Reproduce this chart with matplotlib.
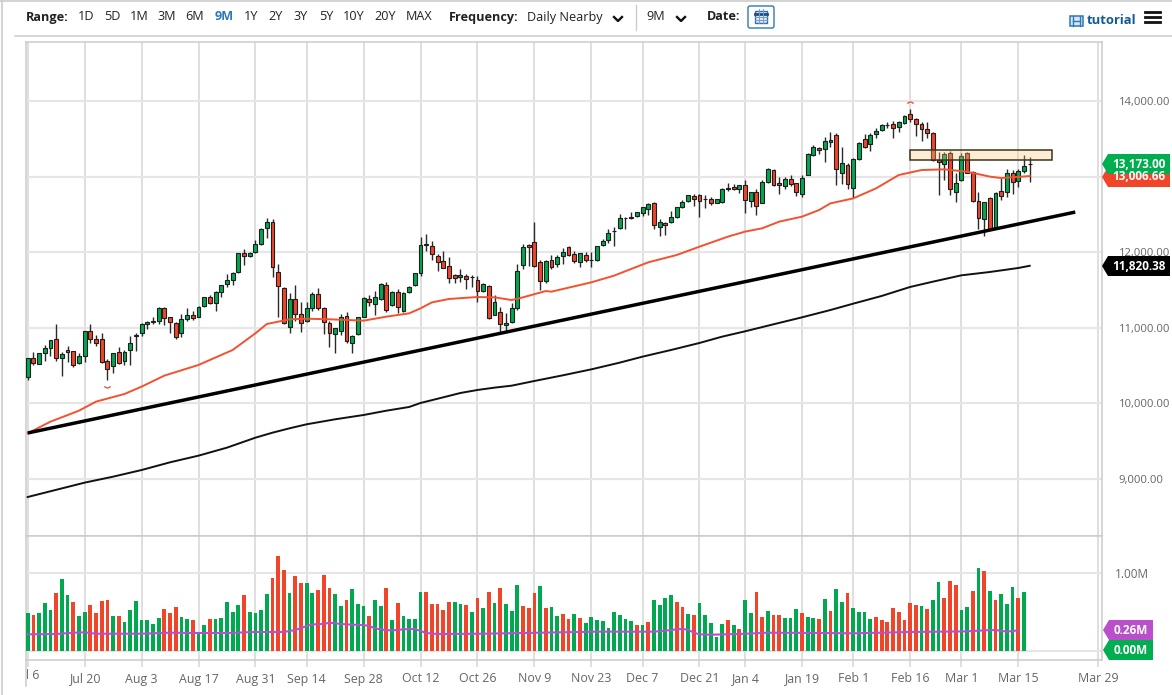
import matplotlib
matplotlib.use("Agg")
import matplotlib.pyplot as plt
from matplotlib.patches import Polygon, Rectangle, FancyBboxPatch
from matplotlib.path import Path
from matplotlib.transforms import Bbox

plt.rcParams['font.family'] = ['Open Sans', 'DejaVu Sans']

# daily candles
opens = [10344,10596,10521,10671,10728,10847,10600,10701,10688,10530,
    10622,10953,10847,10847,10565,10494,10679,10556,10701,10904,
    10931,11054,11076,11094,11257,11138,11067,10926,11112,11173,
    11142,11288,11411,11323,11477,11579,11636,11738,11985,11945,
    11998,12108,12320,12403,11742,11522,11006,11376,11187,11090,
    11261,11447,11257,11063,10918,10962,11156,10803,10913,11142,
    11385,11319,11376,11561,11306,11469,11217,11473,11561,11720,
    12104,12077,11945,11888,11813,11694,11676,11680,11676,11627,
    11491,11557,11173,11209,11032,11076,11257,11826,12090,12134,
    11866,11624,11897,11849,11950,12065,11972,11871,11959,11902,
    11902,12091,12162,12285,12325,12457,12466,12475,12523,12567,
    12656,12338,12387,12404,12470,12594,12678,12744,12757,12708,
    12704,12656,12669,12845,12858,12836,12885,12678,12797,12656,
    12924,13092,12911,12880,12973,12911,12770,13026,13286,13379,
    13365,13457,13545,13047,13153,12844,13228,13501,13426,13559,
    13616,13686,13691,13660,13704,13823,13757,13695,13634,13581,
    13219,13166,13307,12800,12955,13307,13056,12677,12434,12712,
    12337,12809,12791,13052,12946,13069,13162]
closes = [10596,10530,10662,10728,10834,10596,10649,10684,10512,10622,
    10953,10847,10803,10543,10459,10671,10538,10675,10794,10891,
    11045,11081,11094,11261,11125,11072,10874,11120,11173,11129,
    11279,11403,11332,11473,11561,11636,11724,11985,11949,11985,
    12108,12306,12403,11799,11552,11059,11385,11178,11059,11266,
    11447,11257,11072,10926,10992,11147,10829,10891,11138,11394,
    11341,11403,11575,11231,11469,11270,11464,11535,11720,12095,
    12090,11971,11874,11795,11654,11658,11694,11649,11667,11491,
    11583,11129,11336,11050,11059,11266,11755,12068,12073,11817,
    11615,11884,11809,11937,12003,11968,11888,11985,11902,11893,
    12078,12153,12259,12276,12448,12448,12457,12528,12594,12634,
    12365,12400,12365,12462,12594,12669,12753,12708,12682,12700,
    12647,12700,12832,12836,12841,12885,12686,12792,12611,12929,
    13096,12894,12885,12973,12898,12797,12982,13295,13392,13352,
    13470,13479,13100,13184,12906,13232,13444,13391,13550,13598,
    13678,13678,13638,13726,13805,13757,13695,13625,13572,13219,
    13188,13298,12831,12910,13276,13052,12677,12452,12659,12302,
    12787,12747,13043,12924,13074,13135,13173]
highs = [10596,10684,10662,10772,10838,11050,10684,10759,10697,10662,
    10953,11050,10904,10926,10591,10671,10750,10706,10891,10935,
    11059,11094,11138,11270,11279,11147,11081,11182,11257,11226,
    11288,11411,11433,11491,11566,11711,11742,11993,12037,12007,
    12161,12315,12448,12434,11839,11544,11464,11566,11345,11345,
    11477,11530,11279,11094,11001,11182,11213,10904,11147,11403,
    11433,11491,11588,11601,11491,11508,11469,11552,11729,12196,
    12245,12152,11976,12011,11940,11711,11773,11711,11694,11685,
    11597,11566,11433,11270,11200,11332,11843,12108,12108,12399,
    11897,11897,11963,11963,12052,12087,12016,11994,12007,12007,
    12087,12171,12303,12329,12506,12462,12528,12536,12603,12647,
    12664,12435,12400,12550,12603,12691,12761,12770,12770,12753,
    12726,12708,12845,12911,12902,12889,12955,12801,12832,12955,
    13110,13101,13000,12991,13021,12920,13021,13308,13414,13396,
    13528,13585,13581,13387,13184,13241,13453,13563,13572,13638,
    13691,13726,13739,13739,13814,13894,13770,13717,13717,13594,
    13329,13320,13343,13043,13307,13329,13074,12796,12668,12725,
    12800,12977,13096,13087,13104,13281,13259]
lows = [10309,10508,10521,10565,10627,10565,10366,10552,10477,10521,
    10552,10794,10759,10530,10309,10406,10521,10512,10508,10697,
    10891,10979,11050,11050,11037,10935,10847,10882,11094,11103,
    11138,11270,11314,11226,11411,11535,11566,11729,11835,11932,
    11993,12099,12183,11667,11147,11050,10935,11094,10944,11081,
    11226,11235,10913,10750,10662,10904,10794,10662,10904,11138,
    11288,11169,11367,11204,11288,11200,11209,11464,11552,11685,
    12020,11896,11746,11786,11597,11597,11610,11517,11535,11345,
    11477,11120,11164,10935,10962,11067,11235,11773,11821,11808,
    11500,11597,11774,11809,11844,11955,11862,11809,11875,11809,
    11888,12082,12126,12082,12312,12312,12444,12462,12479,12492,
    12312,12215,12232,12391,12453,12581,12669,12611,12462,12589,
    12629,12647,12656,12814,12823,12779,12523,12594,12492,12647,
    12911,12880,12766,12832,12876,12744,12726,13017,13273,13299,
    13193,13387,12884,12902,12831,12721,13219,13382,13343,13515,
    13607,13638,13515,13594,13695,13722,13541,13470,13506,13210,
    12761,12955,12756,12668,12946,13043,12668,12306,12214,12293,
    12329,12690,12725,12769,12866,13052,12932]

# volume in millions, and which colour each bar has
volume = [.485,.464,.481,.609,.528,.736,.915,.719,.626,.443,
    .498,.587,.485,.643,.651,.443,.443,.370,.523,.634,
    .391,.396,.349,.421,.532,.485,.562,.434,.413,.396,
    .247,.328,.413,.404,.417,.621,.498,.583,.711,.494,
    .485,.523,.728,.936,1.213,1.030,.740,.962,.872,.868,
    .740,.779,.970,.800,.728,.574,.655,.791,.600,.570,
    .447,.647,.579,.804,.400,.613,.443,.404,.409,.757,
    .753,.600,.600,.528,.626,.626,.600,.583,.502,.677,
    .549,.753,.609,.804,.604,.511,.843,.579,.553,.736,
    .834,.549,.557,.447,.472,.404,.477,.421,.357,.430,
    .400,.387,.298,.498,.464,.404,.379,.328,.332,.374,
    .651,.587,.677,.715,.626,.562,.472,.460,.609,.455,
    .357,.179,.345,.396,.332,.281,.651,.485,.753,.434,
    .511,.455,.460,.417,.417,.540,.485,.438,.421,.409,
    .664,.506,.787,.626,.740,.549,.494,.498,.409,.434,
    .396,.370,.553,.498,.396,.609,.583,.574,.536,.651,
    .877,.677,.894,.847,.519,.566,.762,1.055,1.026,.762,
    .655,.732,.604,.813,.681,.757]
volume_sides = ("GRGGGRGGRGGRRRRGRGGGGGGGRRRGGRGGRGGGGGRGGGGRRRGRRGGRRRGGRGGGRGGR"
    "GRGGGGRRRRRGGRGRGRGRGGGRRRGRGGRRGRGGGGGGGGGRGRGGGGRRGRGGGGGRGRGGRRGR"
    "RGGGRGGRGRGGRGGGGRRRRRRRRGRGGRRRGGRGRGRGG")

# moving averages and the hand drawn trend line, as (bar, value) readings
ma50_bars = [0,4,9,12,17,20,24,30,36,40,42,44,46,49,53,56,59,63,67,69,71,74,79,82,85,87,91,92,99,103,106,109,114,118,123,126,129,132,136,139,141,145,149,153,157,161,165,169,171,176]
ma50_vals = [9604,9758,9903,10023,10124,10221,10367,10508,10706,10927,11050,11081,11112,11120,11112,11103,11094,11147,11191,11257,11336,11381,11407,11403,11367,11403,11486,11478,11601,11690,11778,11866,11963,12073,12206,12272,12316,12404,12470,12558,12646,12712,12844,13021,13087,13096,13065,13000,12981,13007]
ma200_bars = [0,10,15,20,25,30,35,40,43,46,49,54,59,63,67,69,73,76,79,82,85,89,94,99,104,108,113,118,122,126,131,136,141,145,150,155,159,164,169,174,176]
ma200_vals = [8761,8951,9030,9118,9220,9308,9414,9546,9612,9670,9723,9789,9846,9903,9952,10005,10080,10137,10177,10208,10234,10296,10371,10450,10539,10618,10706,10799,10883,10953,11046,11138,11235,11319,11421,11540,11610,11694,11738,11791,11820]
vol_ma_bars = [0,5,8,10,12,20,25,30,35,40,45,47,49,50,52,53,55,57,59,60,61,63,65,66,68,69,70,72,80,90,100,110,112,114,115,116,117,118,120,125,130,140,145,155,160,165,168,170,172,174]
vol_ma_vals = [.213,.217,.234,.238,.221,.221,.234,.230,.230,.243,.243,.268,.319,.340,.345,.362,.345,.336,.332,.319,.289,.264,.268,.277,.281,.255,.230,.217,.221,.234,.247,.247,.260,.277,.281,.272,.234,.213,.208,.217,.234,.230,.226,.243,.247,.251,.264,.268,.247,.264]
trend_bars = [0,184]
trend_vals = [9608,12531]
zone_bars = [155,180]
zone_vals = [13219,13347]

tick_bars = [10,20,30,40,49,59,69,79,89,99,108,118,126,136,145,155,164,174,188]
tick_dates = ["Jul 20","Aug 3","Aug 17","Aug 31","Sep 14","Sep 28","Oct 12","Oct 26","Nov 9","Nov 23","Dec 7","Dec 21","Jan 4","Jan 19","Feb 1","Feb 16","Mar 1","Mar 15","Mar 29"]
price_ticks = [9000,10000,11000,12000,13000,14000]
range_names = ["1D","5D","1M","3M","6M","9M","1Y","2Y","3Y","5Y","10Y","20Y","MAX"]
range_x = [86,112,139,167,195,224,251,276,301,326,354,385,419]

GREEN = "#00a94f"
RED = "#f1452a"
GRID_H = "#e6e6e6"
GRID_V = "#d6d6d6"
W, H = 1172, 695

fig = plt.figure(figsize=(W/100, H/100), dpi=100, facecolor="white")

def axes_px(x0, y0, x1, y1):
    return fig.add_axes([x0/W, 1-y1/H, (x1-x0)/W, (y1-y0)/H])

ax = axes_px(26, 42, 1102, 536)
vol_ax = axes_px(26, 536, 1102, 660)
for a in (ax, vol_ax):
    a.set_xlim(-0.3, 188.7)
    a.set_xticks([0]+tick_bars)
    a.grid(axis="x", color=GRID_V, lw=1.1, zorder=0)
    a.grid(axis="y", color=GRID_H, lw=1.6, zorder=0)
    a.set_axisbelow(True)
    a.yaxis.tick_right()
    for s in a.spines.values():
        s.set_color("#cccccc")
        s.set_linewidth(1.1)
ax.set_ylim(8245, 14781)
vol_ax.set_ylim(-0.115, 1.469)

ax.set_yticks(price_ticks)
ax.set_yticklabels([f"{p:,.2f}" for p in price_ticks])
ax.tick_params(axis="x", length=0, labelbottom=False)
ax.tick_params(axis="y", length=0, pad=12, labelsize=8.1, labelcolor="#666666")
vol_ax.set_yticks([0, 1])
vol_ax.set_yticklabels(["", "1.00M"])
vol_ax.tick_params(axis="y", length=0, pad=9, labelsize=8.5, labelcolor="#666666")
vol_ax.set_xticks(tick_bars)
vol_ax.set_xticklabels(tick_dates)
vol_ax.set_xticks([0], minor=True)
vol_ax.tick_params(axis="x", which="both", length=5, width=1.1, color=GRID_V, pad=4, labelsize=8.9, labelcolor="#666666")
vol_ax.grid(axis="x", which="minor", color=GRID_V, lw=1.1, zorder=0)

# candles
bars = list(range(len(opens)))
sides = [GREEN if c >= o else RED for o, c in zip(opens, closes)]
ax.vlines(bars, lows, highs, color="#2a2a2a", lw=1.0, zorder=3)
ax.bar(bars, [c-o for o, c in zip(opens, closes)], bottom=opens, width=0.68,
    color=sides, edgecolor="#1e1e1e", linewidth=0.8, zorder=4)

ax.plot(ma200_bars, ma200_vals, color="#111111", lw=1.4, zorder=5)
ax.plot(ma50_bars, ma50_vals, color="#f4512f", lw=1.4, zorder=5)
ax.plot(trend_bars, trend_vals, color="black", lw=2.5, zorder=6, solid_capstyle="butt")
# zone: see-through fill over the candles, solid outline
zone_w, zone_h = zone_bars[1]-zone_bars[0], zone_vals[1]-zone_vals[0]
ax.add_patch(Rectangle((zone_bars[0], zone_vals[0]), zone_w, zone_h,
    facecolor="#f7c779", edgecolor="none", alpha=0.32, zorder=7))
ax.add_patch(Rectangle((zone_bars[0], zone_vals[0]), zone_w, zone_h,
    facecolor="none", edgecolor="#3b3422", lw=1.1, zorder=7))

# little high / low markers
arc_up = Path.arc(30, 150)
arc_down = Path.arc(210, 330)
ax.plot([155], [13951], marker=arc_up, ms=5, mfc="none", mec=RED, mew=0.9, zorder=5)
ax.plot([14], [10252], marker=arc_down, ms=5, mfc="none", mec=RED, mew=0.9, zorder=5)

# volume
vol_bars = list(range(len(volume)))
vol_colors = [GREEN if s == "G" else RED for s in volume_sides]
vol_ax.bar(vol_bars, volume, width=0.66, color=vol_colors, edgecolor="none", zorder=3)
vol_ax.plot(vol_ma_bars, vol_ma_vals, color="#b64fd0", lw=1.5, zorder=4)

# everything around the chart, in pixel coordinates
ui = fig.add_axes([0, 0, 1, 1], facecolor="none")
ui.set_xlim(0, W)
ui.set_ylim(H, 0)
ui.axis("off")

def label(x, y, s, **kw):
    kw.setdefault("fontsize", 9.1)
    kw.setdefault("color", "#222222")
    kw.setdefault("va", "center")
    return ui.text(x, y, s, **kw)

ui.plot([0, W], [0.5, 0.5], color="#cccccc", lw=1.2)
ui.plot([1.5, 1.5], [0, H], color="#cccccc", lw=1.2)
ui.plot([15, W], [36, 36], color="#cccccc", lw=1.1)
ui.plot([26, 26], [660, 686], color="#cccccc", lw=1.1)

label(26, 17, "Range:", fontweight="bold")
for x, name in zip(range_x, range_names):
    if name == "9M":
        label(x, 17, name, ha="center", color="#2f78bd", fontweight="bold")
    else:
        label(x, 17, name, ha="center")
label(449, 17, "Frequency:", fontweight="bold")
label(527, 17, "Daily Nearby")
ui.plot([636, 636], [5, 30], color="#cccccc", lw=1)
label(646, 17, "9M")
label(707, 17, "Date:", fontweight="bold")
for cx in (618, 681):
    ui.plot([cx-4, cx, cx+4], [17, 21, 17], color="#111111", lw=1.7)

ui.add_patch(FancyBboxPatch((748, 6), 26, 22, boxstyle="round,pad=0,rounding_size=2", fc="white", ec="#2f78b5", lw=1))
ui.add_patch(Rectangle((755, 11), 12, 12, fc="#dbe7f5", ec="#3b6ea5", lw=1))
ui.plot([755, 767], [13.5, 13.5], color="#1c4f86", lw=2)
for gx in (759, 763):
    ui.plot([gx, gx], [9, 23], color="#7a9cc5", lw=0.7)
for gy in (17, 20):
    ui.plot([755, 767], [gy, gy], color="#7a9cc5", lw=0.7)

ui.add_patch(Rectangle((1070, 16), 13, 10, fc="#d6e6f5", ec="#2f78b5", lw=1.1))
for gx in (1073, 1080):
    ui.plot([gx, gx], [16, 26], color="#2f78b5", lw=1)
ui.plot([1073, 1080], [21, 21], color="#2f78b5", lw=1)
label(1087, 21, "tutorial", color="#125a96", fontweight="bold", fontsize=9.4)
for hy in (12, 17, 22):
    ui.plot([1145, 1160], [hy, hy], color="#111111", lw=2)

def price_tag(x0, x1, y0, y1, color, text, **kw):
    mid = (y0+y1)/2
    ui.add_patch(Polygon([(x0, mid), (x0+6, y0), (x1, y0), (x1, y1), (x0+6, y1)], closed=True, fc=color, ec="none"))
    label((x0+6+x1)/2, mid, text, color="white", fontweight="bold", ha="center", fontsize=8.5, **kw)

price_tag(1102, 1170, 167, 187, RED, "13,006.66")
price_tag(1102, 1170, 154, 174, "#00ad4f", "13,173.00")
price_tag(1102, 1170, 256, 276, "black", "11,820.38")
price_tag(1103, 1153, 620, 640, "#b94fc9", "0.26M")
price_tag(1103, 1153, 640, 660, "#00ad4f", "0.00M")

# first date label sits half outside the plot and gets cut at the edge
first = label(27.7, 675, "Jul 6", ha="center", fontsize=8.9, color="#666666")
first.set_clip_box(Bbox([[27, 0], [120, H]]))
first.set_clip_on(True)

fig.savefig("out.png", dpi=100)
